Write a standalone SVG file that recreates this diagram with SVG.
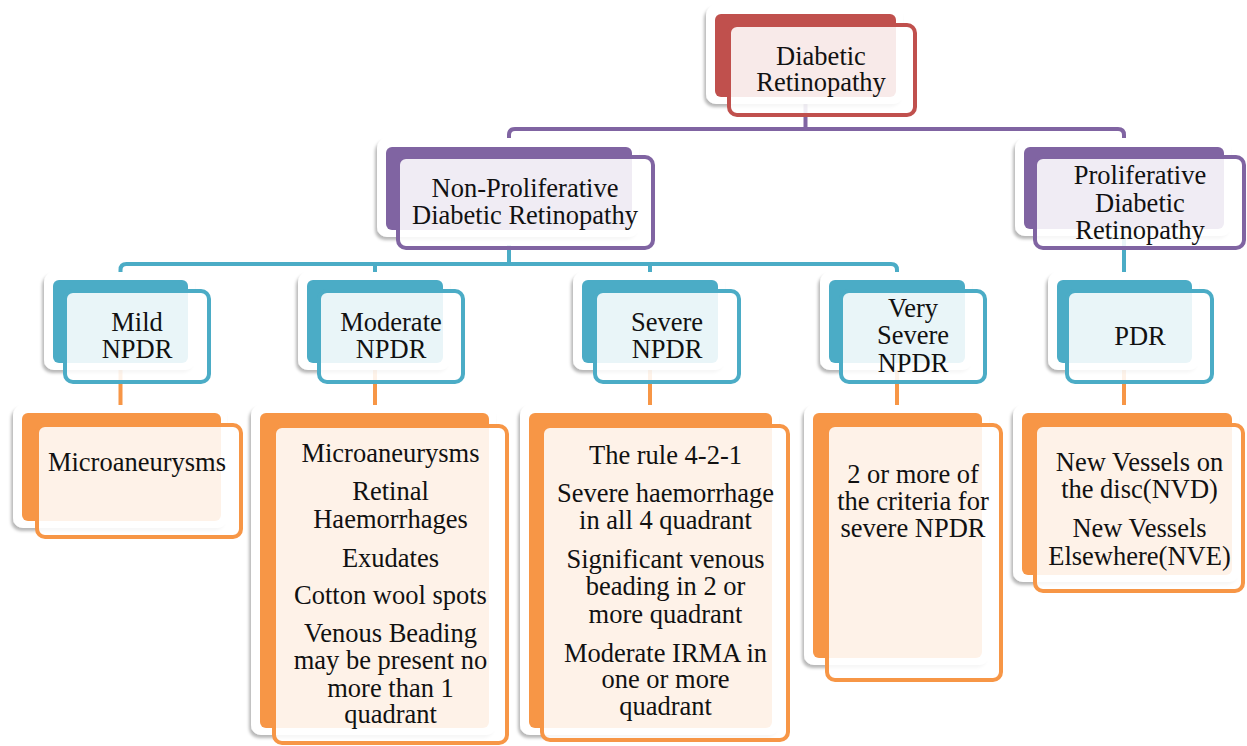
<svg xmlns="http://www.w3.org/2000/svg" width="1247" height="746" viewBox="0 0 1247 746">
<defs>
<filter id="sh" x="-10%" y="-10%" width="120%" height="125%">
<feDropShadow dx="-2" dy="3" stdDeviation="1.6" flood-color="#000" flood-opacity="0.28"/>
</filter>
<style>
.card{fill:#fff;filter:url(#sh)}
.front{fill:#fff;fill-opacity:0.88;stroke-width:4}
.red.back{fill:#c0504d}.red.front{stroke:#c0504d}
.pur.back{fill:#8064a2}.pur.front{stroke:#8064a2}
.teal.back{fill:#4bacc6}.teal.front{stroke:#4bacc6}
.org.back{fill:#f79646}.org.front{stroke:#f79646}
.c{fill:none;stroke-width:4}
.cp{stroke:#8064a2}.ct{stroke:#4bacc6}.co{stroke:#f79646}
text{font-family:"Liberation Serif","Times New Roman",serif;font-size:26.5px;fill:#111;text-anchor:middle}
</style>
</defs>
<rect width="1247" height="746" fill="#fff"/>
<g id="connectors">
<path class="c cp" d="M805.5,97 V129 M509,150 V135 Q509,129 515,129 H1118 Q1124,129 1124,135 V150"/>
<path class="c ct" d="M509,245 V264 M120.5,282 V270 Q120.5,264 126.5,264 H891 Q897,264 897,270 V282 M375,264 V282 M650,264 V282 M1124,229 V282"/>
<path class="c co" d="M120.5,363 V415 M375,363 V415 M650,363 V415 M897,363 V415 M1124,363 V415"/>
</g>
<g id="dr">
<rect class="card" x="706" y="5" width="197" height="99" rx="10"/>
<rect class="back red" x="715" y="14" width="181" height="83" rx="6"/>
<rect class="front red" x="729" y="25" width="186" height="90" rx="8"/>
<text x="821" y="65">Diabetic</text>
<text x="821" y="91">Retinopathy</text>
</g>
<g id="npdr">
<rect class="card" x="377" y="138" width="262" height="99" rx="10"/>
<rect class="back pur" x="386" y="147" width="246" height="83" rx="6"/>
<rect class="front pur" x="398" y="157" width="255" height="91" rx="8"/>
<text x="525" y="197">Non-Proliferative</text>
<text x="525" y="224">Diabetic Retinopathy</text>
</g>
<g id="pdr-main">
<rect class="card" x="1015" y="138" width="216" height="98" rx="10"/>
<rect class="back pur" x="1024" y="147" width="200" height="82" rx="6"/>
<rect class="front pur" x="1035" y="157" width="209" height="91" rx="8"/>
<text x="1140" y="184">Proliferative</text>
<text x="1140" y="211.5">Diabetic</text>
<text x="1140" y="239">Retinopathy</text>
</g>
<g id="mild">
<rect class="card" x="44" y="272" width="151" height="98" rx="10"/>
<rect class="back teal" x="53" y="280" width="135" height="83" rx="6"/>
<rect class="front teal" x="65" y="291" width="144" height="91" rx="8"/>
<text x="137" y="331">Mild</text>
<text x="137" y="358">NPDR</text>
</g>
<g id="moderate">
<rect class="card" x="298" y="272" width="152" height="98" rx="10"/>
<rect class="back teal" x="307" y="280" width="136" height="83" rx="6"/>
<rect class="front teal" x="319" y="291" width="144" height="91" rx="8"/>
<text x="391" y="331">Moderate</text>
<text x="391" y="358">NPDR</text>
</g>
<g id="severe">
<rect class="card" x="573" y="272" width="152" height="98" rx="10"/>
<rect class="back teal" x="582" y="280" width="136" height="83" rx="6"/>
<rect class="front teal" x="595" y="291" width="144" height="91" rx="8"/>
<text x="667" y="331">Severe</text>
<text x="667" y="358">NPDR</text>
</g>
<g id="very-severe">
<rect class="card" x="820" y="272" width="152" height="98" rx="10"/>
<rect class="back teal" x="829" y="280" width="136" height="83" rx="6"/>
<rect class="front teal" x="841" y="291" width="144" height="91" rx="8"/>
<text x="913" y="317">Very</text>
<text x="913" y="344">Severe</text>
<text x="913" y="371.5">NPDR</text>
</g>
<g id="pdr">
<rect class="card" x="1048" y="272" width="151" height="98" rx="10"/>
<rect class="back teal" x="1057" y="280" width="135" height="83" rx="6"/>
<rect class="front teal" x="1067" y="291" width="145" height="91" rx="8"/>
<text x="1140" y="345">PDR</text>
</g>
<g id="mild-signs">
<rect class="card" x="13" y="405" width="214" height="123" rx="10"/>
<rect class="back org" x="22" y="413" width="199" height="108" rx="6"/>
<rect class="front org" x="37" y="425" width="204" height="112" rx="8"/>
<text x="137" y="471">Microaneurysms</text>
</g>
<g id="moderate-signs">
<rect class="card" x="251" y="405" width="245" height="330" rx="10"/>
<rect class="back org" x="260" y="413" width="229" height="315" rx="6"/>
<rect class="front org" x="274" y="426" width="233" height="317" rx="8"/>
<text x="390.5" y="462">Microaneurysms</text>
<text x="390.5" y="500">Retinal</text>
<text x="390.5" y="528">Haemorrhages</text>
<text x="390.5" y="566.5">Exudates</text>
<text x="390.5" y="604">Cotton wool spots</text>
<text x="390.5" y="642">Venous Beading</text>
<text x="390.5" y="669">may be present no</text>
<text x="390.5" y="696.5">more than 1</text>
<text x="390.5" y="723">quadrant</text>
</g>
<g id="severe-signs">
<rect class="card" x="520" y="405" width="259" height="330" rx="10"/>
<rect class="back org" x="529" y="413" width="243" height="315" rx="6"/>
<rect class="front org" x="542" y="426" width="246" height="314" rx="8"/>
<text x="665.5" y="464">The rule 4-2-1</text>
<text x="665.5" y="502">Severe haemorrhage</text>
<text x="665.5" y="529">in all 4 quadrant</text>
<text x="665.5" y="567.5">Significant venous</text>
<text x="665.5" y="595">beading in 2 or</text>
<text x="665.5" y="622.5">more quadrant</text>
<text x="665.5" y="661.5">Moderate IRMA in</text>
<text x="665.5" y="688">one or more</text>
<text x="665.5" y="715">quadrant</text>
</g>
<g id="very-severe-signs">
<rect class="card" x="804" y="405" width="185" height="260" rx="10"/>
<rect class="back org" x="813" y="413" width="169" height="245" rx="6"/>
<rect class="front org" x="827" y="425" width="174" height="255" rx="8"/>
<text x="913" y="483">2 or more of</text>
<text x="913" y="510">the criteria for</text>
<text x="913" y="537">severe NPDR</text>
</g>
<g id="pdr-signs">
<rect class="card" x="1013" y="405" width="226" height="177" rx="10"/>
<rect class="back org" x="1022" y="413" width="210" height="162" rx="6"/>
<rect class="front org" x="1035" y="425" width="208" height="166" rx="8"/>
<text x="1139.5" y="471">New Vessels on</text>
<text x="1139.5" y="497.5">the disc(NVD)</text>
<text x="1139.5" y="537">New Vessels</text>
<text x="1139.5" y="565">Elsewhere(NVE)</text>
</g>
</svg>
